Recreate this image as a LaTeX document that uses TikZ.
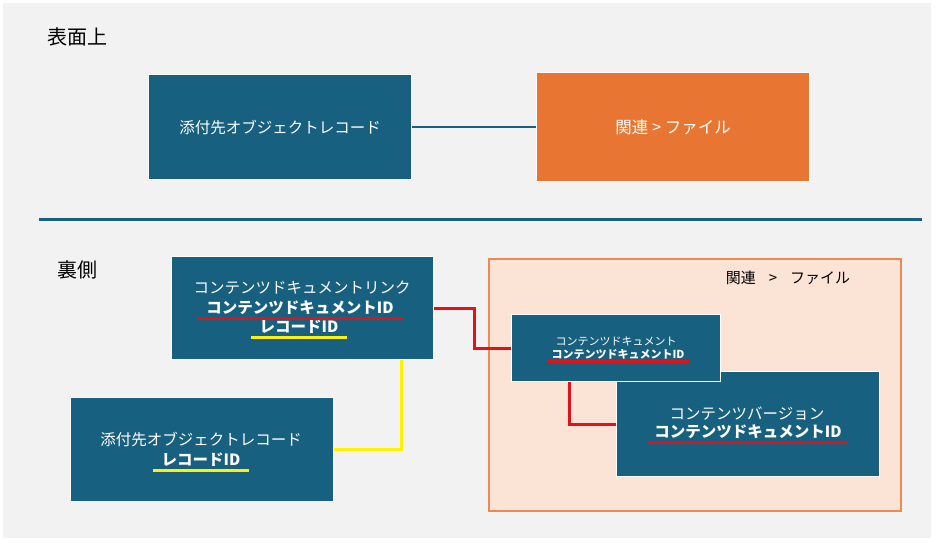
\documentclass[tikz,border=0pt]{standalone}
\usepackage{fontspec}
\setmainfont{Noto Sans CJK JP}
\usetikzlibrary{positioning}
\definecolor{boxblue}{HTML}{18607F}
\definecolor{boxorange}{HTML}{E97532}
\definecolor{peach}{HTML}{FBE3D6}
\definecolor{paper}{HTML}{F2F2F2}
\definecolor{redmark}{HTML}{E0121A}
\tikzset{
  block/.style={
    rectangle,
    draw=white,
    line width=1.2pt,
    fill=boxblue,
    text=white,
    anchor=north west,
    inner sep=0pt,
    font=\fontsize{15.5}{18}\selectfont
  },
  txt/.style={
    text=white,
    inner sep=0pt,
    font=\fontsize{15.5}{18}\selectfont
  },
  idtxt/.style={
    txt,
    font=\fontsize{15.5}{18}\selectfont\bfseries
  },
  redline/.style={
    draw=redmark,
    line width=3pt
  },
  yellowline/.style={
    draw=yellow,
    line width=3pt
  }
}

\begin{document}
\begin{tikzpicture}[x=1pt, y=-1pt]
\useasboundingbox (0,0) rectangle (935,543);
\fill[paper] (3,3) rectangle (931,538);

% --- upper half ---
\node (surface) [font=\fontsize{20}{24}\selectfont, inner sep=0pt] at (77,37) {表面上};
\node (toprec) [block, minimum width=263pt, minimum height=105pt] at (148,74) {添付先オブジェクトレコード};
\node (topfile) [block, fill=boxorange, minimum width=273pt, minimum height=109pt, font=\fontsize{16.5}{19}\selectfont] at (536,72) {関連 > ファイル};
\draw[boxblue, line width=1.5pt] (toprec.east) -- (topfile.west);

\coordinate (sepleft) at (39,219);
\coordinate (sepright) at (922,219);
\draw[boxblue, line width=3pt] (sepleft) -- (sepright);

% --- lower half ---
\node (reverse) [font=\fontsize{20}{24}\selectfont, inner sep=0pt] at (77,270) {裏側};
\node (files) [rectangle, draw=boxorange!85, line width=2pt, fill=peach, anchor=north west, minimum width=412pt, minimum height=252pt] at (488,258) {};
\node (fileslabel) [inner sep=0pt, font=\fontsize{15}{18}\selectfont] at (788,278) {関連\hspace{13pt}>\hspace{13pt}ファイル};

\node (link) [block, minimum width=262pt, minimum height=103pt] at (171,256) {};
\node (linktitle) [txt] at (302,288) {コンテンツドキュメントリンク};
\node (linkid) [idtxt] at (300,308) {コンテンツドキュメントID};
\node (linkrec) [idtxt] at (299,327) {レコードID};

\node (attach) [block, minimum width=263pt, minimum height=104pt] at (70,397) {};
\node (attachtitle) [txt] at (201,440) {添付先オブジェクトレコード};
\node (attachrec) [idtxt] at (201,460) {レコードID};

\node (version) [block, minimum width=263pt, minimum height=105pt] at (616,371) {};
\node (versiontitle) [txt] at (747,414) {コンテンツバージョン};
\node (versionid) [idtxt] at (748,432) {コンテンツドキュメントID};

\node (doc) [block, minimum width=209pt, minimum height=67pt] at (511,314) {};
\node (doctitle) [txt, font=\fontsize{11}{13}\selectfont] at (616,341) {コンテンツドキュメント};
\node (docid) [idtxt, font=\fontsize{11}{13}\selectfont\bfseries] at (618,354) {コンテンツドキュメントID};

% --- underlines ---
\draw[redline] ([xshift=-9pt, yshift=-3pt]linkid.south west) -- ([xshift=9pt, yshift=-3pt]linkid.south east);
\draw[yellowline] ([xshift=-8pt, yshift=-3pt]linkrec.south west) -- ([xshift=8pt, yshift=-3pt]linkrec.south east);
\draw[yellowline] ([xshift=-8pt, yshift=-3pt]attachrec.south west) -- ([xshift=8pt, yshift=-3pt]attachrec.south east);
\draw[redline] ([xshift=-6pt, yshift=-3pt]versionid.south west) -- ([xshift=6pt, yshift=-3pt]versionid.south east);
\draw[redline] ([xshift=-4pt, yshift=-2pt]docid.south west) -- ([xshift=4pt, yshift=-2pt]docid.south east);

% --- connectors ---
\draw[yellowline] ([xshift=-33pt]link.south east) |- (attach.east);
\draw[redline] (link.east) -- ++(40,0) |- (doc.west);
\draw[redline] ([xshift=58pt]doc.south west) |- (version.west);

\end{tikzpicture}
\end{document}
